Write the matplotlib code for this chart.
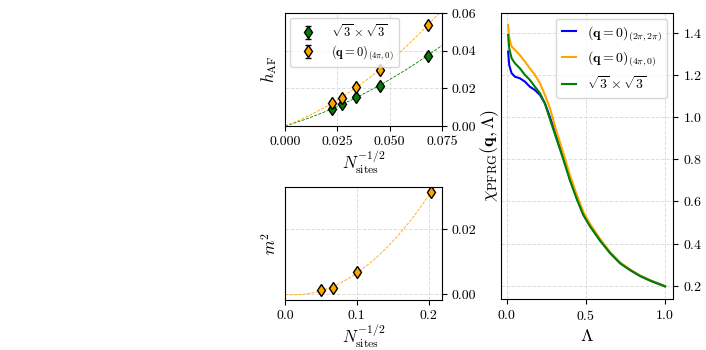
import matplotlib
matplotlib.use("Agg")
import matplotlib.pyplot as plt
import numpy as np

plt.rcParams['font.family'] = 'serif'
plt.rcParams['font.serif'] = ['cmr10']
plt.rcParams['mathtext.fontset'] = 'cm'
plt.rcParams['axes.formatter.use_mathtext'] = True
plt.rcParams['axes.unicode_minus'] = False

# h_AF finite size scaling
n_inv = [0.0225, 0.0271, 0.0340, 0.0452, 0.0681]
h_sqrt3 = [0.0088, 0.0115, 0.0154, 0.0215, 0.0374]
h_q0 = [0.0124, 0.0150, 0.0207, 0.0297, 0.0535]
h_err = [0.0007, 0.0007, 0.0007, 0.0007, 0.0007]

# m^2 finite size scaling
n_inv_m = [0.0502, 0.0670, 0.1005, 0.2033]
m2 = [0.0013, 0.0021, 0.0069, 0.0314]
m2_err = [0.0005, 0.0005, 0.0005, 0.0005]

# susceptibility flows
lam = [0.010, 0.017, 0.025, 0.032, 0.053, 0.084, 0.116, 0.147, 0.179, 0.211,
       0.242, 0.274, 0.316, 0.358, 0.400, 0.443, 0.485, 0.527, 0.590, 0.654,
       0.717, 0.780, 0.843, 0.907, 1.000]
chi_blue = [1.310, 1.247, 1.225, 1.208, 1.191, 1.184, 1.168, 1.144, 1.128, 1.105,
            1.065, 1.000, 0.903, 0.808, 0.708, 0.617, 0.538, 0.484, 0.416, 0.356,
            0.308, 0.275, 0.247, 0.225, 0.198]
chi_orange = [1.436, 1.380, 1.350, 1.335, 1.318, 1.294, 1.263, 1.231, 1.200, 1.160,
              1.105, 1.042, 0.930, 0.830, 0.725, 0.632, 0.550, 0.494, 0.423, 0.360,
              0.311, 0.278, 0.249, 0.227, 0.199]
chi_green = [1.389, 1.326, 1.300, 1.279, 1.255, 1.231, 1.200, 1.176, 1.144, 1.113,
             1.065, 0.990, 0.895, 0.800, 0.700, 0.612, 0.535, 0.482, 0.415, 0.355,
             0.307, 0.275, 0.247, 0.225, 0.198]


def fit_curve(x, y, xmax):
    x = np.asarray(x)
    A = np.vstack([x, x ** 2]).T
    coef = np.linalg.lstsq(A, np.asarray(y), rcond=None)[0]
    xx = np.linspace(0, xmax, 200)
    return xx, coef[0] * xx + coef[1] * xx ** 2


fig = plt.figure(figsize=(7.06, 3.5), dpi=100)
ax1 = fig.add_axes([0.4037, 0.64, 0.2224, 0.3229])
ax2 = fig.add_axes([0.4037, 0.1429, 0.2224, 0.3229])
ax3 = fig.add_axes([0.7096, 0.1457, 0.2436, 0.8171])

for ax in (ax1, ax2, ax3):
    ax.yaxis.tick_right()
    ax.grid(True, ls='--', color='#dddddd', lw=0.7)
    ax.set_axisbelow(True)
    ax.tick_params(labelsize=10)

mk = dict(marker='d', markersize=6.5, markeredgecolor='black', ls='none',
          ecolor='black', capsize=2, elinewidth=1)

xx, yy = fit_curve(n_inv, h_sqrt3, 0.075)
ax1.plot(xx, yy, '--', color='green', lw=0.6)
xx, yy = fit_curve(n_inv, h_q0, 0.075)
ax1.plot(xx, yy, '--', color='orange', lw=0.6)
ax1.errorbar(n_inv, h_sqrt3, yerr=h_err, color='green', label=r'$\sqrt{3}\times\sqrt{3}$', **mk)
ax1.errorbar(n_inv, h_q0, yerr=h_err, color='orange', label=r'$(\mathbf{q}=\mathbf{0})_{(4\pi,0)}$', **mk)
ax1.set_xlim(0, 0.075)
ax1.set_ylim(0, 0.06)
ax1.set_xticks([0, 0.025, 0.05, 0.075])
ax1.set_xticklabels(['0.000', '0.025', '0.050', '0.075'])
ax1.set_yticks([0, 0.02, 0.04, 0.06])
ax1.set_yticklabels(['0.00', '0.02', '0.04', '0.06'])
ax1.set_ylabel(r'$h_{\rm AF}$', fontsize=12)
ax1.set_xlabel(r'$N_{\rm sites}^{-1/2}$', fontsize=12, labelpad=1)
ax1.legend(loc='upper left', fontsize=9, handletextpad=0.9, borderaxespad=0.4,
           labelspacing=0.3)

xx, yy = fit_curve(n_inv_m, m2, 0.21)
ax2.plot(xx, yy, '--', color='orange', lw=0.6)
ax2.errorbar(n_inv_m, m2, yerr=m2_err, color='orange', **mk)
ax2.set_xlim(0, 0.2186)
ax2.set_ylim(-0.0017, 0.033)
ax2.set_xticks([0, 0.1, 0.2])
ax2.set_xticklabels(['0.0', '0.1', '0.2'])
ax2.set_yticks([0, 0.02])
ax2.set_yticklabels(['0.00', '0.02'])
ax2.set_ylabel(r'$m^2$', fontsize=12)
ax2.set_xlabel(r'$N_{\rm sites}^{-1/2}$', fontsize=12, labelpad=1)

ax3.plot(lam, chi_blue, color='blue', lw=1.5, label=r'$(\mathbf{q}=\mathbf{0})_{(2\pi,2\pi)}$')
ax3.plot(lam, chi_orange, color='orange', lw=1.5, label=r'$(\mathbf{q}=\mathbf{0})_{(4\pi,0)}$')
ax3.plot(lam, chi_green, color='green', lw=1.5, label=r'$\sqrt{3}\times\sqrt{3}$')
ax3.set_xlim(-0.035, 1.05)
ax3.set_ylim(0.138, 1.493)
ax3.set_xticks([0, 0.5, 1.0])
ax3.set_yticks([0.2, 0.4, 0.6, 0.8, 1.0, 1.2, 1.4])
ax3.set_xlabel(r'$\Lambda$', fontsize=13)
ax3.set_ylabel(r'$\chi_{\rm PFRG}(\mathbf{q},\Lambda)$', fontsize=13, labelpad=0)
ax3.legend(loc='upper right', fontsize=10, handlelength=1.0, borderaxespad=0.4,
           labelspacing=0.5)

fig.savefig('out.png', dpi=100)
